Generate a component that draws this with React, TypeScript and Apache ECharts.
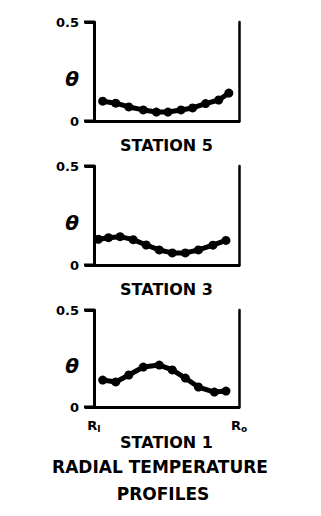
import React, { useEffect, useRef } from "react";
import * as echarts from "echarts";

const xs5 = [0.06, 0.15, 0.24, 0.34, 0.43, 0.51, 0.6, 0.68, 0.77, 0.86, 0.93];
const theta5 = [0.1, 0.09, 0.071, 0.056, 0.045, 0.045, 0.056, 0.066, 0.088, 0.106, 0.141];

const xs3 = [0.03, 0.1, 0.18, 0.27, 0.36, 0.45, 0.54, 0.63, 0.72, 0.82, 0.91];
const theta3 = [0.13, 0.138, 0.143, 0.128, 0.101, 0.076, 0.061, 0.061, 0.076, 0.1, 0.124];

const xs1 = [0.06, 0.15, 0.24, 0.34, 0.45, 0.54, 0.63, 0.72, 0.83, 0.91];
const theta1 = [0.139, 0.129, 0.165, 0.206, 0.216, 0.191, 0.149, 0.103, 0.077, 0.082];

const stationLabels = ["STATION 5", "STATION 3", "STATION 1"];
const yTicks = ["0", "0.5"];
const titleLines = ["RADIAL TEMPERATURE", "PROFILES"];

const FONT = "DejaVu Sans";

export default function App() {
  const ref = useRef<HTMLDivElement>(null);
  useEffect(() => {
    if (!ref.current) return;
    const chart = echarts.init(ref.current, undefined, { renderer: "svg" });
    const grids = [
      { left: 94, width: 145, top: 22, height: 99 },
      { left: 94, width: 145, top: 166, height: 99 },
      { left: 94, width: 145, top: 310, height: 97 },
    ];
    const seriesData = [
      xs5.map((x, i) => [x, theta5[i]]),
      xs3.map((x, i) => [x, theta3[i]]),
      xs1.map((x, i) => [x, theta1[i]]),
    ];
    const xAxis: any[] = [];
    const yAxis: any[] = [];
    const series: any[] = [];
    const graphic: any[] = [];
    grids.forEach((g, i) => {
      const last = i === 2;
      xAxis.push({
        type: "value",
        gridIndex: i,
        min: 0,
        max: 1,
        interval: 1,
        name: stationLabels[i],
        nameLocation: "middle",
        nameGap: last ? 27 : 16,
        nameTextStyle: { fontFamily: FONT, fontWeight: "bold", fontSize: 16, color: "#000" },
        axisLine: { show: true, onZero: false, lineStyle: { color: "#000", width: 3 } },
        axisTick: { show: false },
        splitLine: { show: false },
        axisLabel: {
          show: last,
          margin: 10,
          formatter: (v: number) => (v === 0 ? "R{s|I}" : "R{s|o}"),
          color: "#000",
          fontFamily: FONT,
          fontWeight: "bold",
          fontSize: 13,
          rich: {
            s: { fontFamily: FONT, fontWeight: "bold", fontSize: 9, color: "#000", verticalAlign: "bottom", padding: [7, 0, 0, 0] },
          },
        },
      });
      yAxis.push({
        type: "value",
        gridIndex: i,
        min: 0,
        max: 0.5,
        interval: 0.5,
        axisLine: { show: true, onZero: false, lineStyle: { color: "#000", width: 3 } },
        axisTick: { show: true, inside: false, length: 9, lineStyle: { color: "#000", width: 3 } },
        splitLine: { show: false },
        axisLabel: {
          margin: 15,
          formatter: (v: number) => (v === 0 ? yTicks[0] : yTicks[1]),
          color: "#000",
          fontFamily: FONT,
          fontWeight: "bold",
          fontSize: 13,
        },
      });
      yAxis.push({
        type: "value",
        gridIndex: i,
        position: "right",
        min: 0,
        max: 0.5,
        interval: 0.5,
        axisLine: { show: true, onZero: false, lineStyle: { color: "#000", width: 2.5 } },
        axisTick: { show: false },
        splitLine: { show: false },
        axisLabel: { show: false },
      });
      series.push({
        type: "line",
        xAxisIndex: i,
        yAxisIndex: i * 2,
        data: seriesData[i],
        symbol: "circle",
        symbolSize: 9,
        showSymbol: true,
        lineStyle: { color: "#000", width: 5 },
        itemStyle: { color: "#000" },
        silent: true,
      });
      graphic.push({
        type: "text",
        x: 72,
        y: g.top + g.height / 2 + 7,
        style: {
          text: "θ",
          fontFamily: FONT,
          fontWeight: "bold",
          fontStyle: "italic",
          fontSize: 20,
          fill: "#000",
          textAlign: "center",
          textVerticalAlign: "middle",
        },
      });
      // outward tick marks at the axis ends (0.5 = grid top, 0 = grid bottom)
      [g.top, g.top + g.height].forEach((ty) => {
        graphic.push({
          type: "rect",
          shape: { x: g.left - 10, y: ty - 1.5, width: 10, height: 3 },
          style: { fill: "#000" },
          silent: true,
          z: 10,
        });
      });
    });
    graphic.push(
      {
        type: "text",
        x: 160,
        y: 467,
        style: {
          text: titleLines[0],
          fontFamily: FONT,
          fontWeight: "bold",
          fontSize: 17,
          fill: "#000",
          textAlign: "center",
          textVerticalAlign: "middle",
        },
      },
      {
        type: "text",
        x: 163,
        y: 494,
        style: {
          text: titleLines[1],
          fontFamily: FONT,
          fontWeight: "bold",
          fontSize: 17,
          fill: "#000",
          textAlign: "center",
          textVerticalAlign: "middle",
        },
      }
    );
    chart.setOption({
      animation: false,
      backgroundColor: "#fff",
      grid: grids,
      xAxis,
      yAxis,
      series,
      graphic,
    });
    return () => chart.dispose();
  }, []);
  return (
    <div
      ref={ref}
      style={{ position: "absolute", left: 0, top: 0, width: 321, height: 516, background: "#fff" }}
    />
  );
}
